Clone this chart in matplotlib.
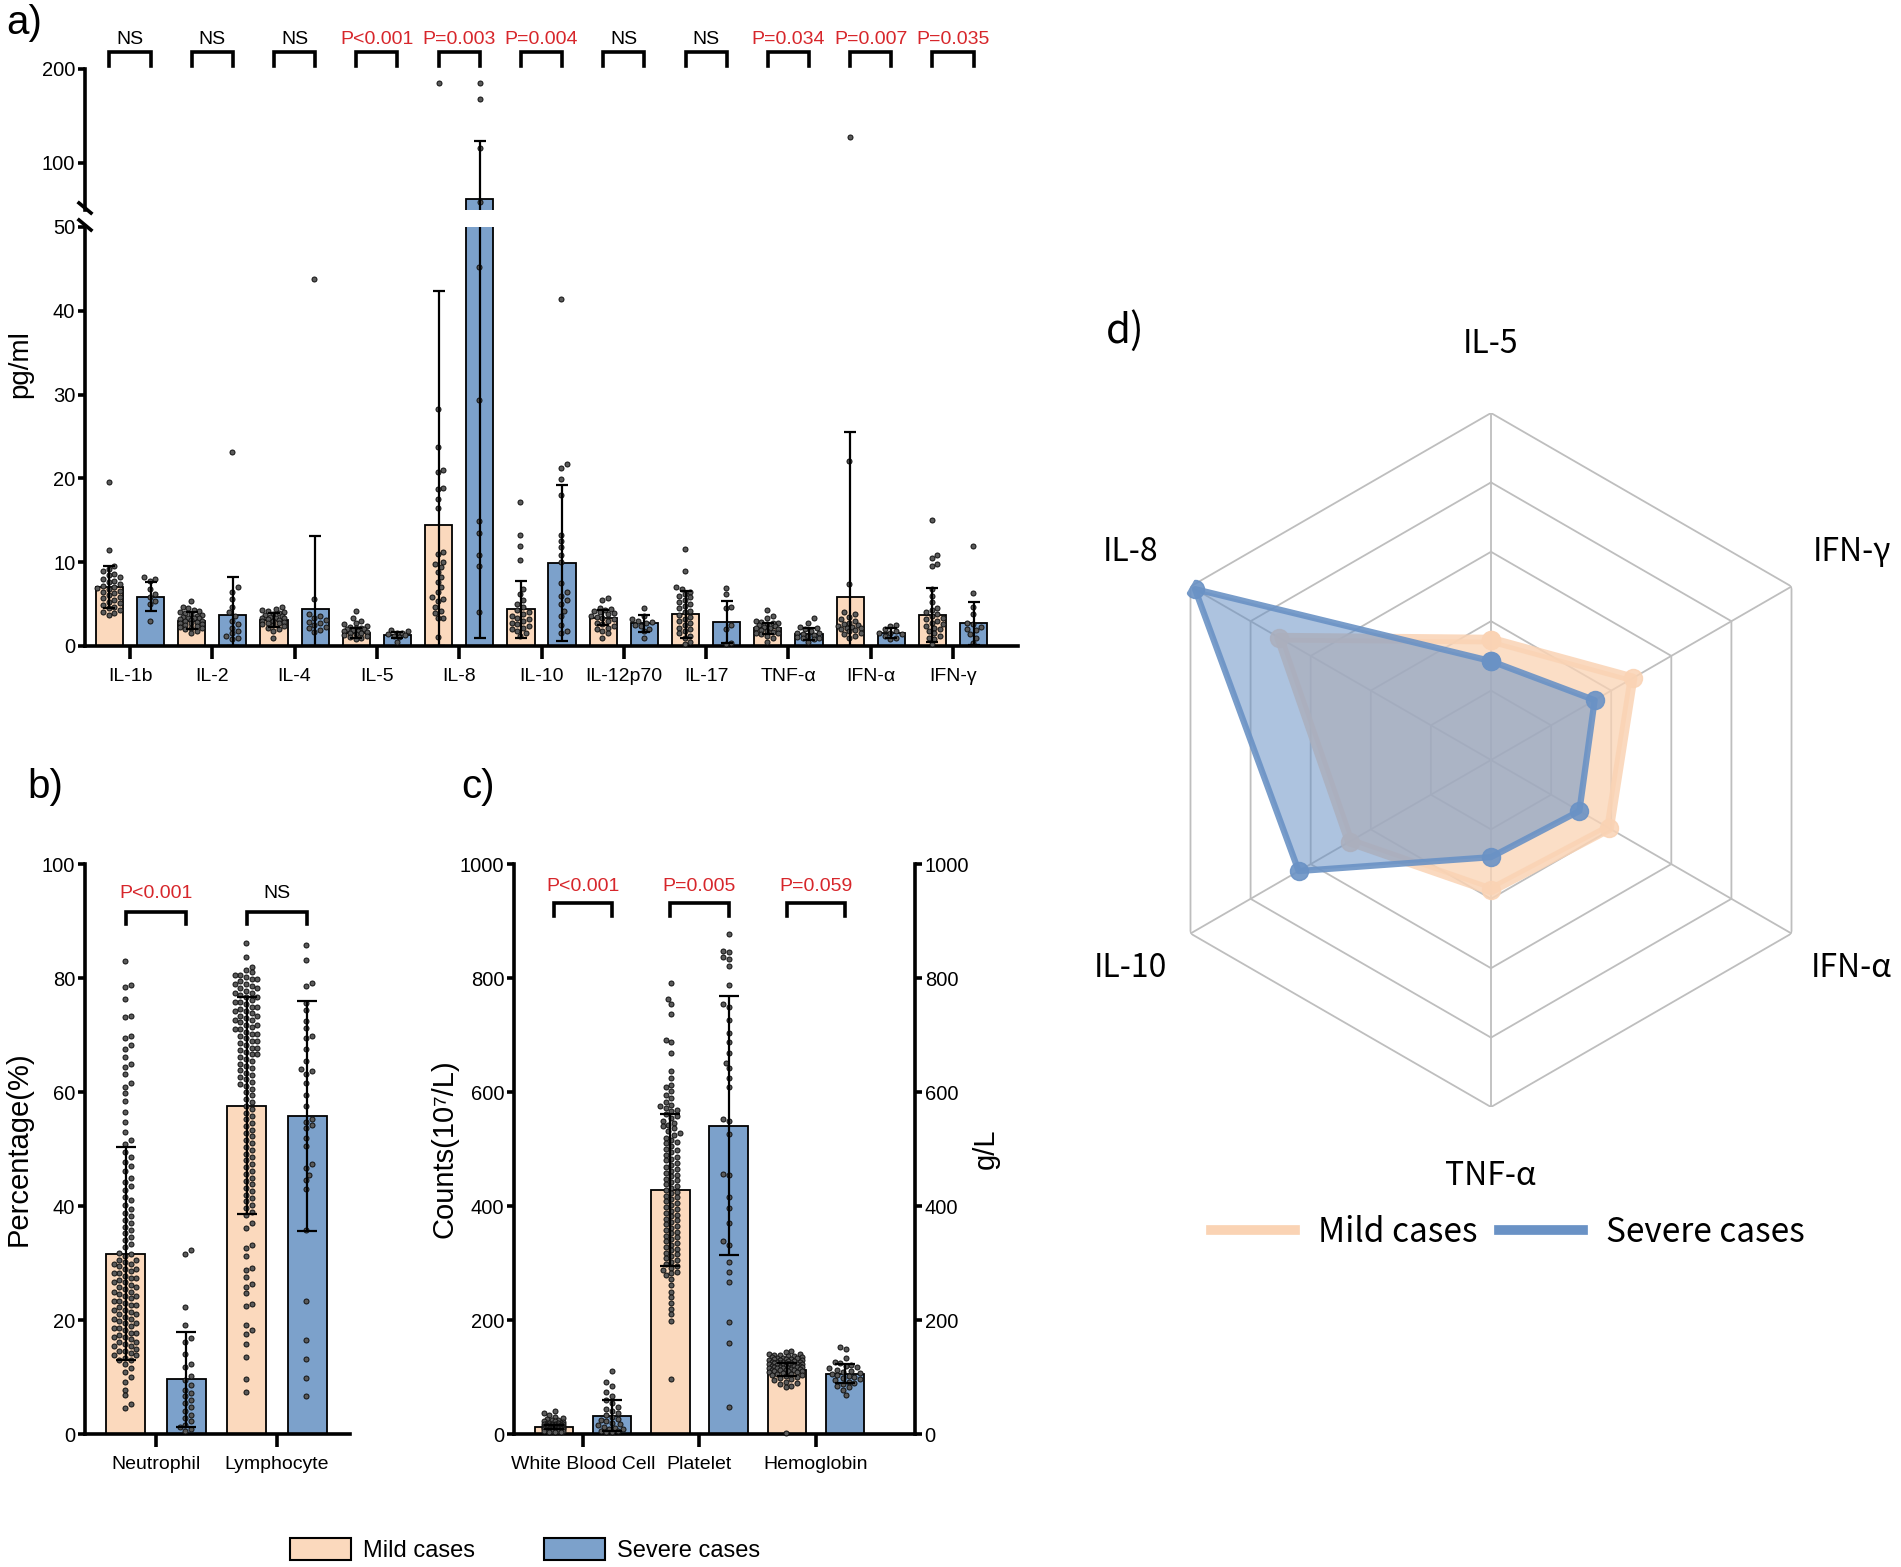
import numpy as np
import matplotlib
matplotlib.use('Agg')
import matplotlib.pyplot as plt
from matplotlib.patches import Patch
from matplotlib.lines import Line2D

plt.rcParams['font.family'] = ['Liberation Sans', 'DejaVu Sans']

# ---------------- data ----------------
cyto = ['IL-1b', 'IL-2', 'IL-4', 'IL-5', 'IL-8', 'IL-10', 'IL-12p70', 'IL-17', 'TNF-α', 'IFN-α', 'IFN-γ']
cyto_mild_mean = [7.0, 3.0, 3.1, 1.6, 14.4, 4.4, 3.4, 3.8, 2.1, 5.8, 3.7]
cyto_mild_sd = [2.5, 1.0, 0.8, 0.6, 28.0, 3.4, 0.9, 2.8, 0.7, 19.7, 3.2]
cyto_sev_mean = [5.9, 3.7, 4.4, 1.35, 62.0, 9.9, 2.7, 2.9, 1.4, 1.5, 2.7]
cyto_sev_sd = [1.7, 4.5, 8.7, 0.35, 61.0, 9.3, 1.0, 2.5, 0.7, 0.6, 2.6]
cyto_p = ['NS', 'NS', 'NS', 'P<0.001', 'P=0.003', 'P=0.004', 'NS', 'NS', 'P=0.034', 'P=0.007', 'P=0.035']

cyto_mild_pts = [
    [19.6, 11.4, 9.5, 9.2, 8.9, 8.6, 8.5, 8.2, 8.0, 7.8, 7.6, 7.4, 7.2, 7.1, 6.9, 6.8, 6.6, 6.4, 6.3, 6.1,
     5.9, 5.7, 5.5, 5.3, 5.1, 4.9, 4.7, 4.5, 4.3, 4.1, 3.9, 3.7],
    [5.4, 4.6, 4.5, 4.3, 4.2, 4.0, 3.9, 3.8, 3.7, 3.6, 3.5, 3.4, 3.3, 3.3, 3.2, 3.1, 3.0, 3.0, 2.9, 2.8,
     2.7, 2.6, 2.5, 2.4, 2.3, 2.2, 2.1, 2.0, 1.8, 1.5],
    [4.6, 4.4, 4.3, 4.2, 4.0, 3.9, 3.8, 3.7, 3.6, 3.5, 3.4, 3.4, 3.3, 3.2, 3.1, 3.0, 3.0, 2.9, 2.8, 2.7,
     2.6, 2.5, 2.4, 2.2, 2.0, 1.8, 1.0],
    [4.2, 3.4, 3.0, 2.8, 2.6, 2.4, 2.3, 2.2, 2.1, 2.0, 2.0, 1.9, 1.8, 1.8, 1.7, 1.6, 1.5, 1.4, 1.3, 1.2,
     1.1, 1.0, 0.8],
    [185, 28.3, 23.7, 21.0, 20.8, 18.9, 18.7, 17.6, 16.5, 11.2, 11.0, 10.0, 9.8, 9.4, 8.8, 8.2, 7.6, 7.0,
     6.4, 5.8, 5.6, 5.4, 4.6, 4.2, 3.9, 3.4, 3.3, 1.1],
    [17.2, 13.3, 11.9, 10.3, 6.8, 6.2, 5.5, 5.0, 4.6, 4.3, 4.0, 3.8, 3.6, 3.4, 3.2, 3.0, 2.8, 2.6, 2.4,
     2.2, 2.0, 1.8, 1.5, 1.2],
    [5.7, 5.5, 4.5, 4.4, 4.3, 4.2, 4.0, 3.9, 3.8, 3.6, 3.5, 3.4, 3.2, 3.0, 2.8, 2.6, 2.4, 2.2, 2.0, 1.8,
     1.5, 1.0],
    [11.6, 9.0, 7.0, 6.8, 6.5, 6.2, 6.0, 5.8, 5.5, 5.2, 5.0, 4.8, 4.5, 4.2, 4.0, 3.7, 3.5, 3.2, 3.0, 2.8,
     2.5, 2.2, 2.0, 1.8, 1.5, 1.2, 1.0, 0.5, 0.2],
    [4.3, 3.6, 3.3, 3.0, 2.9, 2.8, 2.7, 2.6, 2.5, 2.4, 2.3, 2.2, 2.1, 2.0, 1.9, 1.8, 1.7, 1.6, 1.5, 1.4,
     1.2, 1.0, 0.5],
    [128, 22.1, 7.4, 4.0, 3.8, 3.5, 3.2, 3.0, 2.8, 2.6, 2.5, 2.4, 2.3, 2.2, 2.1, 2.0, 1.9, 1.8, 1.6, 1.4,
     1.2, 1.0],
    [15.0, 10.8, 10.5, 9.8, 9.6, 6.8, 6.0, 5.2, 4.5, 4.3, 4.0, 3.8, 3.6, 3.4, 3.2, 3.0, 2.8, 2.6, 2.4,
     2.2, 2.0, 1.8, 1.5, 1.2, 1.0, 0.8, 0.2],
]
cyto_sev_pts = [
    [8.2, 8.0, 7.8, 6.8, 6.2, 5.9, 5.4, 5.0, 3.0],
    [23.2, 7.0, 6.5, 5.6, 4.6, 4.0, 3.6, 3.0, 2.6, 2.2, 1.8, 1.5, 1.2, 1.0, 0.8],
    [43.8, 5.6, 3.8, 3.6, 3.4, 3.1, 2.9, 2.7, 2.5, 2.3, 2.1, 1.9, 1.7],
    [1.9, 1.8, 1.6, 1.5, 1.4, 1.3, 1.2, 1.1, 0.5],
    [185, 168, 116, 58, 45.2, 29.4, 14.9, 13.5, 10.9, 9.5, 4.1],
    [41.4, 21.7, 21.3, 19.9, 18.0, 13.3, 12.5, 11.8, 10.8, 10.0, 7.5, 6.5, 6.0, 5.5, 5.0, 4.2, 3.6, 2.5,
     1.8, 1.5],
    [4.5, 3.6, 3.2, 3.0, 2.9, 2.7, 2.5, 2.4, 2.0, 1.8, 0.9],
    [6.9, 6.2, 4.7, 4.5, 2.5, 2.0, 0.3, 0.2],
    [3.3, 2.8, 2.3, 2.2, 2.0, 1.8, 1.6, 1.5, 1.4, 1.3, 1.2, 1.1, 1.0, 0.9, 0.8, 0.5],
    [2.5, 2.4, 2.0, 1.8, 1.6, 1.5, 1.4, 1.2, 1.0, 0.8],
    [11.9, 6.3, 4.6, 3.8, 2.8, 2.6, 2.3, 2.0, 1.9, 1.4, 1.0, 0.4],
]

cells = ['Neutrophil', 'Lymphocyte']
cells_mild_mean = [31.6, 57.6]
cells_mild_sd = [18.7, 19.0]
cells_sev_mean = [9.6, 55.8]
cells_sev_sd = [8.3, 20.2]
cells_p = ['P<0.001', 'NS']
neut_mild = [83.0, 78.8, 78.5, 76.4, 73.4, 73.2, 69.8, 69.5, 68.2, 67.5, 66.2, 65.0, 64.4, 63.2, 61.5,
             60.8, 59.8, 58.5, 56.5, 54.8, 53.0, 51.5, 50.8, 49.5, 48.6, 47.8, 47.0, 46.2, 45.0, 44.2,
             43.5, 42.8, 41.6, 41.0, 40.2, 39.5, 38.8, 38.2, 37.5, 37.0, 36.4, 35.8, 35.2, 34.6, 34.0,
             33.4, 32.8, 31.8, 31.5, 31.2, 30.6, 30.6, 30.2, 29.8, 29.8, 29.4, 29.0, 29.0, 28.6, 28.2,
             28.2, 27.8, 27.4, 27.4, 27.0, 26.6, 26.6, 26.2, 25.8, 25.8, 25.4, 25.0, 25.0, 24.6, 24.2,
             24.2, 23.8, 23.4, 23.4, 23.0, 22.6, 22.6, 22.2, 21.8, 21.8, 21.4, 21.0, 21.0, 20.6, 20.2,
             20.2, 19.8, 19.4, 19.4, 19.0, 18.6, 18.6, 18.2, 17.8, 17.8, 17.4, 17.0, 17.0, 16.6, 16.2,
             16.2, 15.8, 15.4, 15.4, 15.0, 14.6, 14.6, 14.2, 13.8, 13.8, 13.4, 13.0, 13.0, 12.2, 11.5,
             10.8, 10.0, 9.2, 7.8, 6.8, 5.2, 4.6]
neut_sev = [32.2, 31.5, 22.2, 19.2, 16.8, 16.2, 14.0, 12.2, 11.8, 10.2, 9.4, 8.6, 7.8, 7.2, 6.6, 6.0,
            5.4, 4.8, 4.0, 3.4, 2.8, 2.2, 1.6, 1.2, 0.9, 0.6]
lymph_mild = [86.1, 83.6, 82.0, 81.4, 81.0, 80.6, 80.6, 80.2, 79.8, 79.8, 79.4, 79.0, 79.0, 78.6, 78.2,
              78.2, 77.8, 77.4, 77.4, 77.0, 76.6, 76.6, 76.2, 75.8, 75.8, 75.4, 75.0, 75.0, 74.6, 74.2,
              74.2, 73.8, 73.4, 73.4, 73.0, 72.6, 72.6, 72.2, 71.8, 71.8, 71.4, 71.0, 71.0, 70.6, 70.2,
              70.2, 69.8, 69.4, 69.0, 69.0, 68.6, 68.2, 67.8, 67.8, 67.4, 67.0, 66.6, 66.6, 66.2, 65.8,
              65.4, 65.0, 64.6, 64.2, 63.8, 63.4, 63.0, 62.6, 62.2, 61.8, 61.4, 61.0, 60.6, 60.0, 59.4,
              58.8, 58.2, 57.6, 57.0, 56.4, 55.8, 55.2, 54.6, 54.0, 53.4, 52.8, 52.2, 51.6, 51.0, 50.4,
              49.8, 49.2, 48.6, 48.0, 47.4, 46.8, 46.2, 45.6, 45.0, 44.4, 43.8, 43.2, 42.6, 42.0, 41.4,
              40.8, 40.2, 39.6, 39.0, 38.4, 37.0, 36.2, 33.2, 32.6, 31.2, 29.2, 28.8, 27.6, 26.4, 25.8,
              24.8, 22.8, 22.4, 19.1, 18.2, 17.5, 15.8, 13.5, 9.6, 7.3]
lymph_sev = [85.8, 83.2, 79.2, 78.6, 75.6, 74.4, 72.4, 71.2, 69.8, 69.4, 67.5, 65.5, 64.0, 63.6, 63.2,
             61.5, 59.5, 57.5, 55.2, 54.8, 54.2, 53.6, 52.0, 50.6, 47.4, 46.6, 45.4, 44.5, 43.0, 35.8,
             23.4, 16.5, 13.2, 9.9, 6.6]

blood = ['White Blood Cell', 'Platelet', 'Hemoglobin']
blood_mild_mean = [12, 428, 113]
blood_mild_sd = [4, 134, 11]
blood_sev_mean = [32, 541, 106]
blood_sev_sd = [27, 227, 17]
blood_p = ['P<0.001', 'P=0.005', 'P=0.059']
wbc_mild = [41, 36, 33, 30, 28, 26, 25, 24, 23, 22, 21, 20, 20, 19, 19, 18, 18, 17, 17, 16, 16, 16, 15,
            15, 15, 14, 14, 14, 14, 13, 13, 13, 13, 12, 12, 12, 12, 11, 11, 11, 11, 10, 10, 10, 10, 9, 9,
            9, 9, 8, 8, 8, 7, 7, 7, 6, 6, 5, 5, 4, 4, 3]
wbc_sev = [110, 92, 84, 74, 67, 59, 55, 47.5, 44, 40, 37.6, 34, 30, 27, 24.4, 22, 20, 17.8, 15, 13, 11,
           9, 7.9, 6, 5, 4, 3]
plt_mild = [791, 764, 755, 736, 691, 688, 669, 636, 625, 612, 609, 602, 595, 589, 583, 578, 575, 572,
            569, 566, 562, 558, 555, 550, 546, 542, 540, 536, 532, 528, 525, 520, 516, 512, 510, 505,
            500, 498, 494, 490, 486, 482, 480, 476, 472, 468, 465, 462, 458, 455, 452, 448, 445, 442,
            438, 435, 432, 428, 425, 422, 418, 415, 412, 408, 405, 402, 398, 395, 392, 388, 385, 382,
            378, 375, 372, 368, 365, 362, 358, 355, 352, 348, 345, 342, 338, 335, 332, 328, 325, 322,
            318, 315, 312, 308, 305, 302, 298, 295, 292, 288, 285, 282, 279, 272, 262, 250, 240, 230,
            220, 210, 199, 97]
plt_sev = [878, 848, 845, 836, 833, 821, 787, 754, 750, 727, 704, 688, 668, 651, 642, 625, 609, 553,
           549, 526, 457, 454, 416, 397, 371, 338, 331, 302, 285, 267, 196, 160, 47.5]
hgb_mild = [145, 143, 141, 140, 139, 138, 137, 136, 135, 135, 134, 133, 133, 132, 131, 131, 130, 130,
            129, 128, 128, 127, 127, 126, 126, 125, 125, 124, 124, 123, 123, 122, 122, 121, 121, 120,
            120, 119, 119, 118, 118, 117, 117, 116, 116, 115, 115, 114, 114, 113, 113, 112, 112, 111,
            110, 110, 109, 108, 107, 106, 105, 104, 103, 102, 100, 98, 96, 94, 92, 90, 88, 85, 82, 1.3]
hgb_sev = [153, 150, 133, 127, 124, 121, 119, 117, 115, 113, 111, 109, 107, 106, 104, 102, 100, 98, 96,
           94, 92, 90, 88, 85, 82, 78, 68.6]

radar_labels = ['IL-5', 'IFN-γ', 'IFN-α', 'TNF-α', 'IL-10', 'IL-8']
radar_mild = [0.347, 0.471, 0.393, 0.376, 0.47, 0.705]
radar_sev = [0.285, 0.345, 0.294, 0.28, 0.64, 0.985]

# ---------------- style ----------------
MILD = '#FBD9BD'
SEVERE = '#7CA1CB'
RED = '#D7262B'
R_MILD = '#FAD3B4'
R_SEV = '#6A92C5'

W, H = 1901, 1567
fig = plt.figure(figsize=(W / 100, H / 100), dpi=100)


def box(l, t, r, b):
    return [l / W, 1 - b / H, (r - l) / W, (b - t) / H]


def style(ax, xlen=9):
    for s in ['top', 'right']:
        ax.spines[s].set_visible(False)
    for s in ['left', 'bottom']:
        ax.spines[s].set_linewidth(2.6)
    ax.tick_params(axis='y', width=2.6, length=5, labelsize=14.5, pad=2)
    ax.tick_params(axis='x', width=2.6, length=xlen, labelsize=14, pad=7)


def swarm(ax, xc, vals, dot=5.6, half=12):
    # simple beeswarm in pixel space, returns x in data units
    vals = np.asarray(vals, float)
    if len(vals) == 0:
        return vals
    pix = ax.transData.transform(np.column_stack([np.full(len(vals), xc), vals]))
    x0, ys = pix[0, 0], pix[:, 1]
    cands = sorted(np.arange(-half, half + 0.01, dot / 2), key=abs)
    placed, xs = [], np.zeros(len(vals))
    for i in np.argsort(ys):
        y = ys[i]
        near = [(px, py) for px, py in placed if abs(py - y) < dot]
        best, bestd, bestc = None, -1, 0
        for c in cands:
            d = min([np.hypot(c - px, y - py) for px, py in near] or [99])
            if d >= dot:
                best = c
                break
            if d > bestd:
                bestd, bestc = d, c
        if best is None:
            best = bestc
        placed.append((best, y))
        xs[i] = x0 + best
    return ax.transData.inverted().transform(np.column_stack([xs, ys]))[:, 0]


def dots(ax, xc, vals, half=12):
    if len(vals) == 0:
        return
    xs = swarm(ax, xc, vals, half=half)
    ax.scatter(xs, vals, s=13, facecolor='#5a5a5a', edgecolor='#111111', linewidth=0.7, zorder=3,
               clip_on=False)


def bars(ax, x, mean, sd, color, width, cap):
    mean = np.asarray(mean, float)
    sd = np.asarray(sd, float)
    lo = np.minimum(sd, mean)
    ax.bar(x, mean, width=width, color=color, edgecolor='black', linewidth=1.3, zorder=2)
    ax.errorbar(x, mean, yerr=[lo, sd], fmt='none', ecolor='black', elinewidth=1.6, capsize=cap,
                capthick=1.6, zorder=4)


def bracket(ax, x1, x2, y, h, ty, text, fs=14):
    ax.plot([x1, x1, x2, x2], [y - h, y, y, y - h], color='black', lw=2.6, clip_on=False,
            solid_joinstyle='miter', zorder=5)
    ax.text((x1 + x2) / 2, ty, text, ha='center', va='bottom', fontsize=fs,
            color=RED if text.startswith('P') else 'black')


# ---------------- panel a ----------------
xa = np.arange(len(cyto))
axl = fig.add_axes(box(85, 227, 1018, 646))
axu = fig.add_axes(box(85, 69, 1018, 210))
for ax in (axl, axu):
    style(ax, xlen=9)
    ax.set_xlim(-0.547, 10.79)
    ax.set_facecolor('none')
axl.set_ylim(0, 50)
axu.set_ylim(50, 200)
axl.set_yticks([0, 10, 20, 30, 40, 50])
axu.set_yticks([100, 200])
axu.spines['bottom'].set_visible(False)
axu.set_xticks([])
axl.set_xticks(xa)
axl.set_xticklabels(cyto)

for ax in (axl, axu):
    bars(ax, xa - 0.25, cyto_mild_mean, cyto_mild_sd, MILD, 0.33, 4.5)
    bars(ax, xa + 0.25, cyto_sev_mean, cyto_sev_sd, SEVERE, 0.33, 4.5)
for i in range(len(cyto)):
    for off, pts in ((-0.25, cyto_mild_pts[i]), (0.25, cyto_sev_pts[i])):
        pts = np.asarray(pts, float)
        dots(axl, i + off, pts[pts <= 50], half=12)
        axu.scatter(np.full((pts > 50).sum(), i + off), pts[pts > 50], s=13, facecolor='#5a5a5a',
                    edgecolor='#111111', linewidth=0.7, zorder=3)
    bracket(axu, i - 0.25, i + 0.25, 218.4, 15, 222, cyto_p[i])

# axis break marks
for yb in (210, 227):
    fig.add_artist(Line2D([(85 - 6) / W, (85 + 6) / W], [1 - (yb - 7) / H, 1 - (yb + 3) / H],
                          color='black', lw=2.6))
fig.text(20 / W, 1 - 364 / H, 'pg/ml', rotation=90, ha='center', va='center', fontsize=20)
fig.text(6 / W, 1 - 4 / H, 'a)', ha='left', va='top', fontsize=29)

# ---------------- panel b ----------------
axb = fig.add_axes(box(85, 864, 350, 1434))
style(axb, xlen=9)
axb.set_xlim(-0.587, 1.603)
axb.set_ylim(0, 100)
axb.set_yticks(range(0, 101, 20))
xb = np.arange(len(cells))
axb.set_xticks(xb)
axb.set_xticklabels(cells)
bars(axb, xb - 0.25, cells_mild_mean, cells_mild_sd, MILD, 0.32, 7)
bars(axb, xb + 0.25, cells_sev_mean, cells_sev_sd, SEVERE, 0.32, 7)
for xc, pts in ((-0.25, neut_mild), (0.25, neut_sev), (0.75, lymph_mild), (1.25, lymph_sev)):
    dots(axb, xc, pts, half=12)
for i in range(len(cells)):
    bracket(axb, i - 0.25, i + 0.25, 91.6, 2.2, 93.3, cells_p[i])
axb.set_ylabel('Percentage(%)', fontsize=21)
axb.yaxis.set_label_coords((33 - 85) / 265, 0.5)
fig.text(27 / W, 1 - 768 / H, 'b)', ha='left', va='top', fontsize=29)

# ---------------- panel c ----------------
axc = fig.add_axes(box(514, 864, 915, 1434))
style(axc, xlen=9)
axc.set_xlim(-0.592, 2.85)
axc.set_ylim(0, 1000)
axc.set_yticks(range(0, 1001, 200))
xc3 = np.arange(len(blood))
axc.set_xticks(xc3)
axc.set_xticklabels(blood)
bars(axc, xc3 - 0.25, blood_mild_mean, blood_mild_sd, MILD, 0.33, 7)
bars(axc, xc3 + 0.25, blood_sev_mean, blood_sev_sd, SEVERE, 0.33, 7)
for xc, pts, hw in ((-0.25, wbc_mild, 10), (0.25, wbc_sev, 14), (0.75, plt_mild, 16),
                    (1.25, plt_sev, 14), (1.75, hgb_mild, 18), (2.25, hgb_sev, 16)):
    dots(axc, xc, pts, half=hw)
for i in range(len(blood)):
    bracket(axc, i - 0.25, i + 0.25, 932, 24, 946, blood_p[i])
axc.set_ylabel('Counts(10⁷/L)', fontsize=21)
axc.yaxis.set_label_coords((458 - 514) / 401, 0.5)
axr = axc.twinx()
axr.set_ylim(0, 1000)
axr.set_yticks(range(0, 1001, 200))
for s in ['top', 'left', 'bottom']:
    axr.spines[s].set_visible(False)
axr.spines['right'].set_linewidth(2.6)
axr.tick_params(axis='y', width=2.6, length=5, labelsize=14.5, pad=2)
axr.set_ylabel('g/L', fontsize=21)
axr.yaxis.set_label_coords((972 - 514) / 401, 0.5)
fig.text(461 / W, 1 - 768 / H, 'c)', ha='left', va='top', fontsize=29)

fig.legend(handles=[Patch(facecolor=MILD, edgecolor='black', lw=1.5),
                    Patch(facecolor=SEVERE, edgecolor='black', lw=1.5)],
           labels=['Mild cases', 'Severe cases'], loc='center', ncol=2, frameon=False,
           bbox_to_anchor=(525 / W, 1 - 1550 / H), fontsize=17, handlelength=2.6,
           handleheight=1.1, columnspacing=2.9, handletextpad=0.5)

# ---------------- panel d (radar) ----------------
axd = fig.add_axes(box(1144, 413, 1838, 1107), projection='polar')
axd.set_theta_offset(np.pi / 2)
axd.set_theta_direction(-1)
axd.set_ylim(0, 1)
axd.grid(False)
axd.spines['polar'].set_visible(False)
axd.set_xticks([])
axd.set_yticks([])
axd.patch.set_alpha(0)
ang = np.arange(6) * np.pi / 3
ang_c = np.append(ang, ang[0])
for r in [0.2, 0.4, 0.6, 0.8, 1.0]:
    axd.plot(ang_c, [r] * 7, color='#BEBEBE', lw=1.3, zorder=1)
for a in ang:
    axd.plot([a, a], [0, 1], color='#BEBEBE', lw=1.3, zorder=1)
m = np.append(radar_mild, radar_mild[0])
s = np.append(radar_sev, radar_sev[0])
axd.fill(ang_c, m, color=R_MILD, alpha=0.75, lw=0, zorder=2)
axd.plot(ang_c, m, color=R_MILD, lw=7, alpha=0.85, marker='o', markersize=13, zorder=3)
axd.fill(ang_c, s, color=R_SEV, alpha=0.55, lw=0, zorder=4)
axd.plot(ang_c, s, color=R_SEV, lw=4.5, alpha=0.9, marker='o', markersize=13, zorder=5)
for a, lab in zip(ang, radar_labels):
    axd.text(a, 1.2, lab, ha='center', va='center', fontsize=23,
             family=['Noto Sans CJK SC', 'DejaVu Sans'], fontweight='light')
fig.text(1106 / W, 1 - 310 / H, 'd)', ha='left', va='top', fontsize=29,
         family=['Noto Sans CJK SC', 'DejaVu Sans'], fontweight='light')
fig.legend(handles=[Line2D([0], [0], color=R_MILD, lw=7), Line2D([0], [0], color=R_SEV, lw=7)],
           labels=['Mild cases', 'Severe cases'], loc='center', ncol=2, frameon=False,
           bbox_to_anchor=(1508 / W, 1 - 1232 / H), handlelength=2.5,
           handletextpad=0.7, columnspacing=0.65,
           prop={'family': ['Noto Sans CJK SC', 'DejaVu Sans'], 'size': 24, 'weight': 'light'})

fig.savefig('out.png', dpi=100)
